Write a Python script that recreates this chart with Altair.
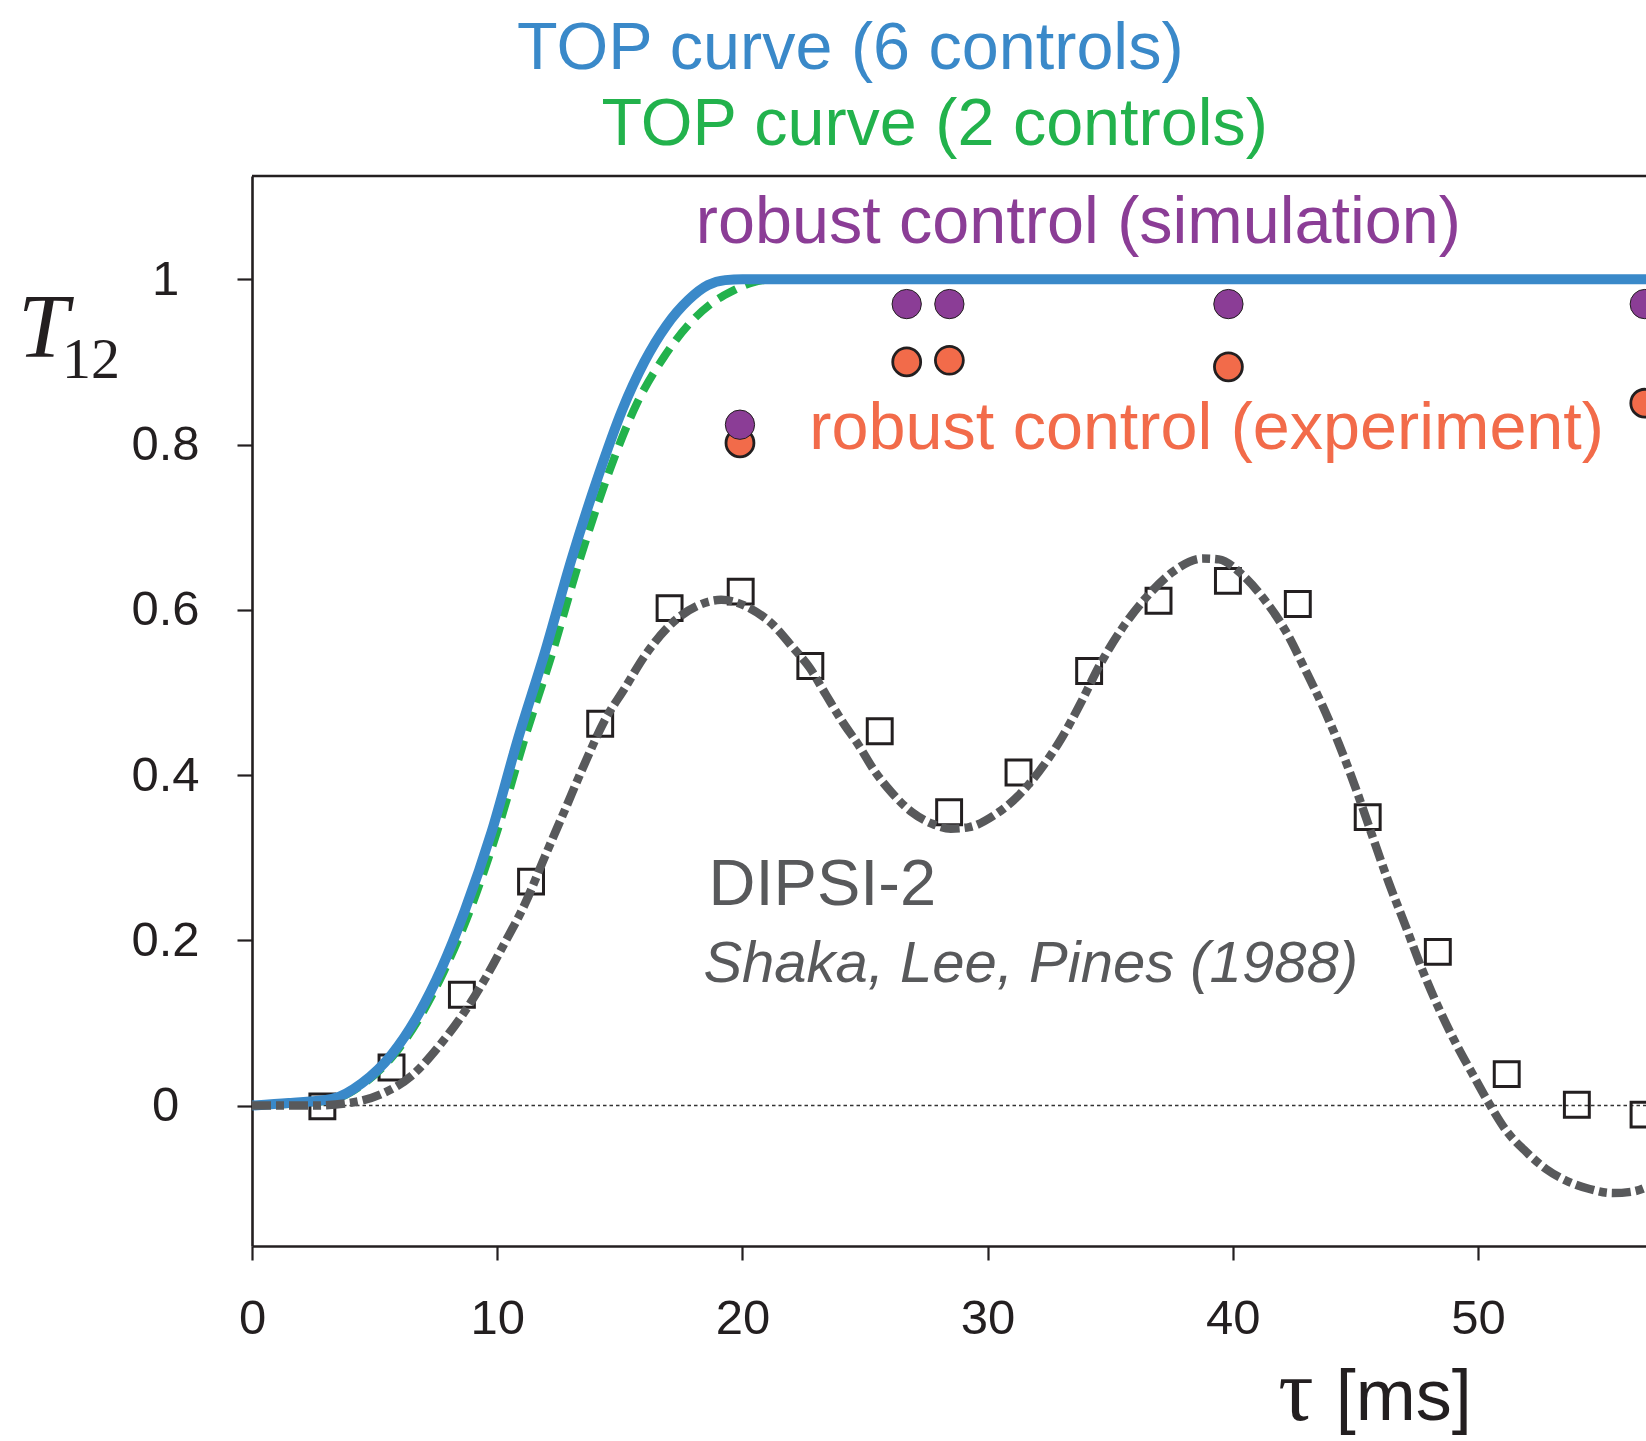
import altair as alt
import pandas as pd

# ---------------- data ----------------
# TOP curve, 6 controls (solid blue)
top6_t = [0, 1.5, 3.26, 4.48, 5.70, 6.78, 7.73, 8.68, 9.77, 10.85, 11.94, 13.03,
          14.1, 15.1, 16.0, 16.9, 17.8, 18.6, 19.3, 20.0, 25.0, 35.0, 45.0, 57.0]
top6_T = [0, 0.003, 0.008, 0.027, 0.062, 0.110, 0.166, 0.236, 0.331, 0.444, 0.548, 0.661,
          0.760, 0.842, 0.900, 0.944, 0.975, 0.993, 0.999, 1.0, 1.0, 1.0, 1.0, 1.0]

# TOP curve, 2 controls (green dashed)
top2_t = [0, 1.5, 3.26, 4.48, 5.75, 6.85, 7.82, 8.85, 9.98, 11.12, 12.25, 13.37,
          14.6, 15.7, 16.8, 17.8, 18.7, 19.6, 20.4, 21.3, 30.0, 45.0, 57.0]
top2_T = [0, 0.002, 0.007, 0.025, 0.060, 0.107, 0.162, 0.233, 0.330, 0.444, 0.548, 0.661,
          0.770, 0.850, 0.906, 0.945, 0.970, 0.986, 0.996, 1.0, 1.0, 1.0, 1.0]

# DIPSI-2 theory curve (dash-dot grey)
dipsi_t = [0, 2.44, 3.93, 5.29, 6.51, 7.6, 8.68, 9.5, 10.31, 11.13, 11.94, 12.75, 13.57,
           14.38, 15.2, 16.01, 17.1, 18.18, 19.13, 20.23, 21.24, 22.07, 22.74, 23.41,
           24.07, 24.74, 25.41, 26.08, 26.91, 27.74, 28.5, 29.25, 30.25, 31.25, 32.09,
           32.92, 33.76, 34.59, 35.59, 36.59, 37.6, 38.77, 39.43, 40.36, 41.32, 42.14,
           42.96, 43.64, 44.32, 45.0, 45.68, 46.37, 47.05, 47.73, 48.41, 49.1, 49.78,
           50.46, 51.14, 51.96, 52.78, 53.6, 54.55, 55.5, 56.33, 57.0]
dipsi_T = [0, 0.0, 0.003, 0.014, 0.036, 0.071, 0.114, 0.153, 0.197, 0.244, 0.301, 0.357,
           0.414, 0.466, 0.505, 0.544, 0.583, 0.605, 0.612, 0.603, 0.582, 0.554, 0.530,
           0.497, 0.465, 0.436, 0.404, 0.379, 0.355, 0.341, 0.335, 0.337, 0.351, 0.375,
           0.404, 0.440, 0.485, 0.534, 0.582, 0.619, 0.647, 0.662, 0.661, 0.643, 0.611,
           0.575, 0.527, 0.485, 0.438, 0.385, 0.327, 0.269, 0.217, 0.164, 0.117, 0.075,
           0.038, 0.002, -0.030, -0.056, -0.077, -0.091, -0.101, -0.106, -0.104, -0.097]

# DIPSI-2 measured points (open squares)
sq_t = [2.87, 5.69, 8.56, 11.38, 14.2, 17.03, 19.93, 22.77, 25.6, 28.43, 31.26, 34.14,
        36.97, 39.8, 42.65, 45.5, 48.36, 51.17, 54.03, 56.75]
sq_T = [-0.001, 0.046, 0.134, 0.271, 0.462, 0.602, 0.622, 0.532, 0.453, 0.355, 0.403,
        0.526, 0.611, 0.635, 0.607, 0.349, 0.186, 0.038, 0.001, -0.011]

# robust control
sim_t = [19.9, 26.7, 28.44, 39.82, 56.8]
sim_T = [0.824, 0.970, 0.970, 0.970, 0.970]
exp_t = [19.9, 26.7, 28.44, 39.82, 56.8]
exp_T = [0.802, 0.900, 0.902, 0.894, 0.850]

x_ticks = [0, 10, 20, 30, 40, 50]
y_ticks = [0, 0.2, 0.4, 0.6, 0.8, 1]

# annotations (text, x [ms], y [T12], colour, size, font, style)
ann_text = ["TOP curve (6 controls)", "TOP curve (2 controls)", "robust control (simulation)",
            "robust control (experiment)", "DIPSI-2", "Shaka, Lee, Pines (1988)",
            "T", "12", "τ", "[ms]"]
ann_t = [10.81, 14.25, 18.1, 22.73, 18.62, 18.41, -9.54, -7.75, 41.85, 44.2]
ann_T = [1.255, 1.162, 1.0435, 0.794, 0.2427, 0.149, 0.906, 0.881, -0.381, -0.381]
ann_color = ["#3A89C9", "#22B24C", "#8B3D96", "#F26B4A", "#58595B", "#58595B",
             "#231F20", "#231F20", "#231F20", "#231F20"]
ann_size = [66.5, 66.5, 66.5, 66.5, 65, 58, 91, 58, 88, 72]
ann_font = ["Liberation Sans"] * 6 + ["Liberation Serif", "Liberation Serif",
                                       "Liberation Serif", "Liberation Sans"]
ann_style = ["normal"] * 5 + ["italic", "italic", "normal", "normal", "normal"]

# ---------------- chart ----------------
INK = "#231F20"
X_MAX = 56.85
Y_MIN, Y_MAX = -0.170, 1.125

xs = alt.Scale(domain=[0, X_MAX], nice=False, zero=False)
ys = alt.Scale(domain=[Y_MIN, Y_MAX], nice=False, zero=False)

x_axis = alt.Axis(values=x_ticks, format="d", grid=False, title=None,
                  domainColor=INK, domainWidth=2.6, tickColor=INK, tickWidth=2.2,
                  tickSize=14, labelFont="Liberation Sans", labelFontSize=49,
                  labelColor=INK, labelPadding=34, labelFlush=False,
                  labelOverlap=False)
y_axis = alt.Axis(values=y_ticks, format="~g", grid=False, title=None,
                  domainColor=INK, domainWidth=2.6, tickColor=INK, tickWidth=2.2,
                  tickSize=15, labelFont="Liberation Sans", labelFontSize=49,
                  labelColor=INK, labelPadding=72, labelAlign="center",
                  labelBaseline="middle", labelFlush=False, labelOverlap=False)


def X():
    return alt.X("t:Q", scale=xs, axis=x_axis)


def Y():
    return alt.Y("T:Q", scale=ys, axis=y_axis)


sq_df = pd.DataFrame({"t": sq_t, "T": sq_T})
squares = alt.Chart(sq_df).mark_square(
    filled=False, size=620, strokeWidth=3, color=INK, opacity=1, clip=True
).encode(x=X(), y=Y())

zero_df = pd.DataFrame({"t": [0, X_MAX], "T": [0, 0]})
zero_line = alt.Chart(zero_df).mark_line(
    color="#333333", strokeWidth=1.6, strokeDash=[3.5, 3]
).encode(x=X(), y=Y())

frame_df = pd.DataFrame({"t": [0, X_MAX], "T": [Y_MAX, Y_MAX]})
top_frame = alt.Chart(frame_df).mark_line(color=INK, strokeWidth=2.6).encode(
    x=X(), y=Y())


def curve(t, T, width, **style):
    df = pd.DataFrame({"t": t, "T": T})
    return alt.Chart(df).mark_line(
        clip=True, interpolate="monotone", strokeCap="butt", strokeJoin="round", **style
    ).encode(x=X(), y=Y(), strokeWidth=alt.value(width))


green = curve(top2_t, top2_T, 8, color="#22B24C", strokeDash=[20, 10])
blue = curve(top6_t, top6_T, 10, color="#3A89C9")
dipsi = curve(dipsi_t, dipsi_T, 8.5, color="#58595B", strokeDash=[19, 5, 8, 5])


def dots(t, T, fill, sw, size):
    df = pd.DataFrame({"t": t, "T": T})
    return alt.Chart(df).mark_circle(
        color=fill, stroke=INK, strokeWidth=sw, size=size, opacity=1, clip=True
    ).encode(x=X(), y=Y())


exp_dots = dots(exp_t, exp_T, "#F26B4A", 2.8, 780)
sim_dots = dots(sim_t, sim_T, "#8B3D96", 1.0, 860)

texts = []
for i in range(len(ann_text)):
    df = pd.DataFrame({"t": [ann_t[i]], "T": [ann_T[i]], "label": [ann_text[i]]})
    texts.append(
        alt.Chart(df).mark_text(
            align="left", baseline="alphabetic", font=ann_font[i],
            fontSize=ann_size[i], fontStyle=ann_style[i], color=ann_color[i]
        ).encode(x=X(), y=Y(), text="label:N"))

chart = alt.layer(
    zero_line, top_frame, squares, green, blue, dipsi, exp_dots, sim_dots, *texts
).properties(
    width=1394, height=1070,
    autosize=alt.AutoSizeParams(type="none"),
    padding={"left": 252, "top": 176, "right": 0, "bottom": 195},
    background="white",
).configure_view(stroke=None)

chart.save("out.html", embed_options={"renderer": "svg", "actions": False})
